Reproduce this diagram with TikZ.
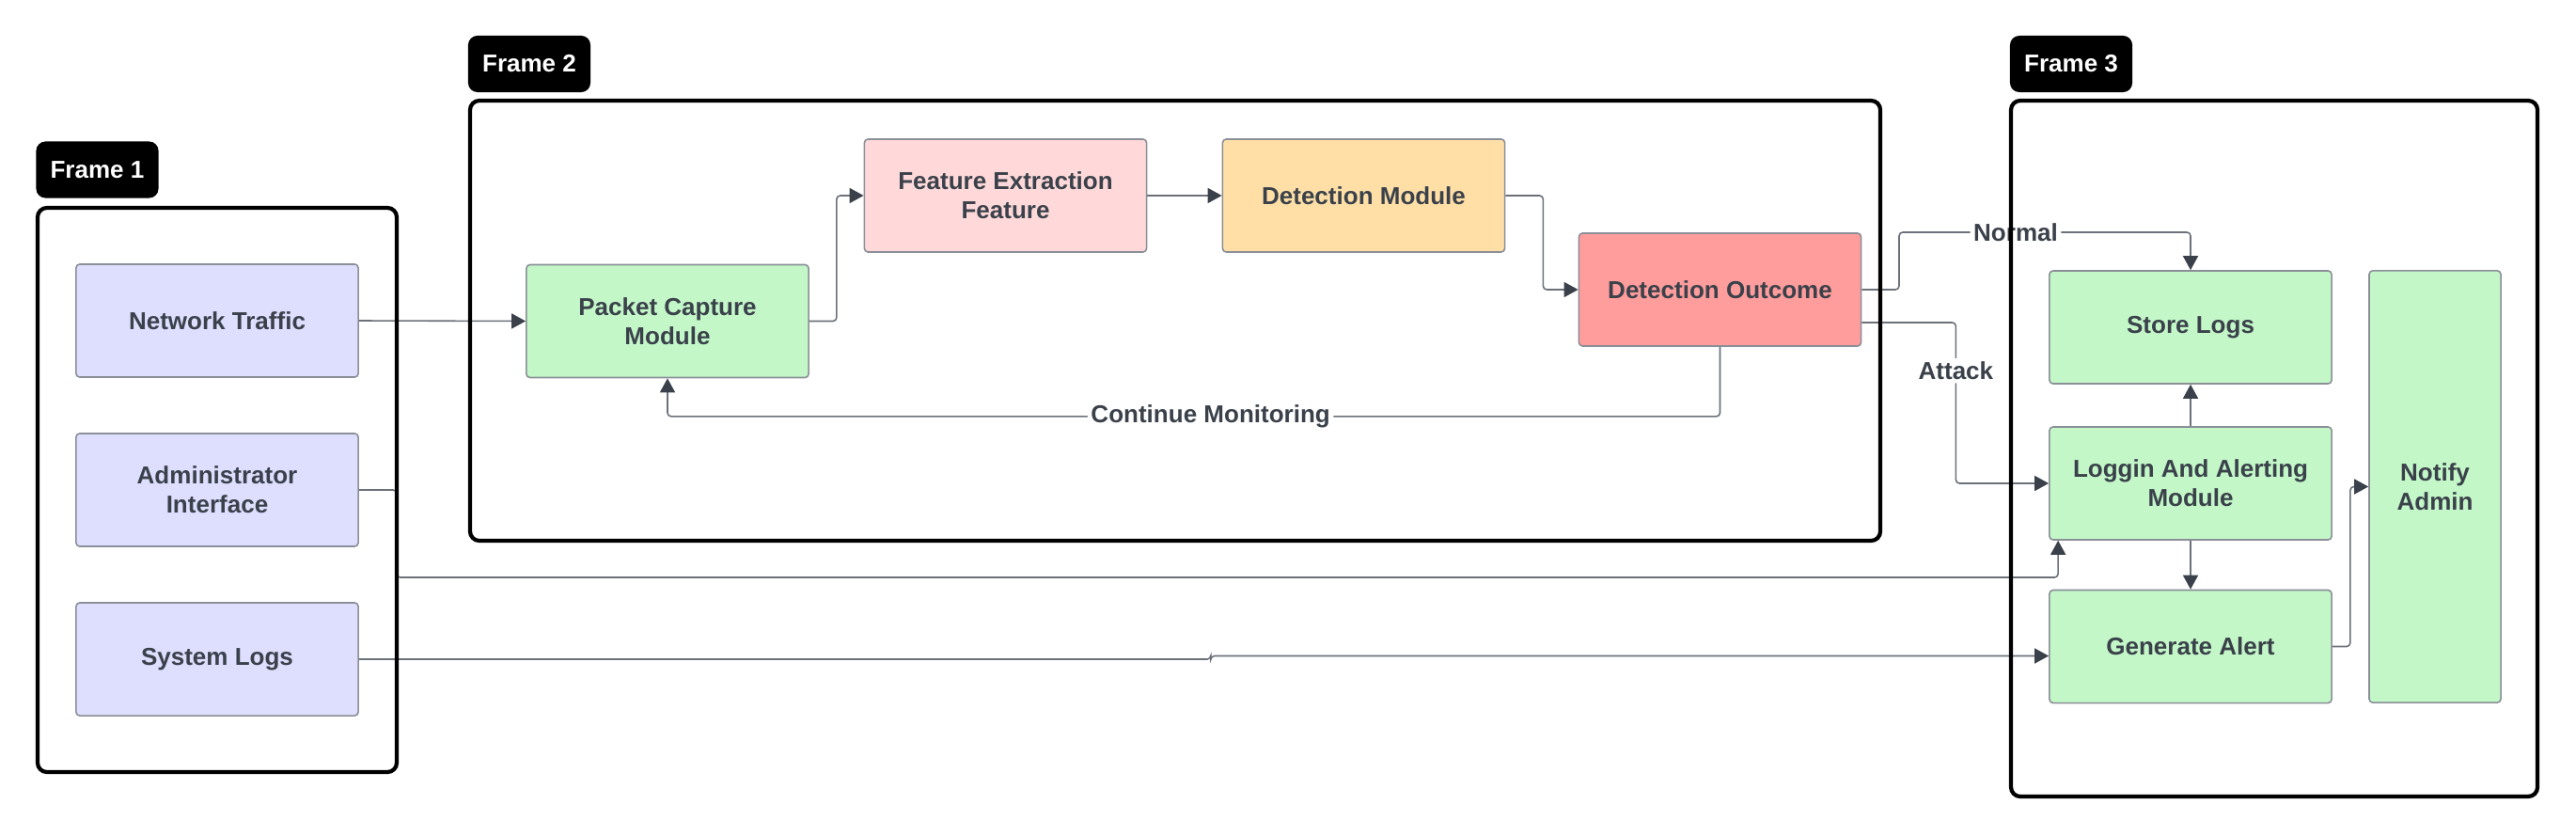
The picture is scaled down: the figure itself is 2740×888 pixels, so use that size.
\documentclass[tikz,border=0pt]{standalone}
\usepackage{fontspec}
\setmainfont{Liberation Sans}
\usepackage{xcolor}
\usetikzlibrary{calc,arrows.meta}
\definecolor{ink}{HTML}{3A414A}
\definecolor{edge}{HTML}{8A8F98}
\definecolor{wirec}{HTML}{6B7079}
\definecolor{lav}{HTML}{DEDEFF}
\definecolor{mint}{HTML}{C3F7C8}
\definecolor{rose}{HTML}{FFD9D9}
\definecolor{peach}{HTML}{FFDFA6}
\definecolor{salmon}{HTML}{FF9C9C}
\newcommand\diafont{\bfseries\fontsize{7.4pt}{8.8pt}\selectfont}
\tikzset{
  box/.style={draw=edge, line width=0.45pt, rounded corners=1.1pt, minimum width=3cm, minimum height=1.2cm, inner sep=0pt, align=center, text=ink, font=\diafont},
  framebox/.style={draw=black, line width=1.2pt, rounded corners=2.8pt},
  tag/.style={fill=black, text=white, rounded corners=2.8pt, minimum width=1.3cm, minimum height=0.6cm, inner sep=0pt, font=\diafont},
  conn/.style={draw=wirec, line width=0.45pt, rounded corners=1.1pt, -{Triangle[length=1.5mm,width=1.6mm,color=ink]}},
  lbl/.style={fill=white, text=ink, inner sep=1pt, font=\diafont},
}

\begin{document}
\begin{tikzpicture}[x=0.01cm, y=-0.01cm]
  \useasboundingbox (0,0) rectangle (2740,888);

  % frame 1
  \node[box, fill=lav] (traffic) at (231,341) {Network Traffic};
  \node[box, fill=lav] (admin)   at (231,521) {Administrator\\Interface};
  \node[box, fill=lav] (syslogs) at (231,701) {System Logs};

  % frame 2
  \node[box, fill=mint]   (capture) at (710,341.5)  {Packet Capture\\Module};
  \node[box, fill=rose]   (extract) at (1069.5,208) {Feature Extraction\\Feature};
  \node[box, fill=peach]  (detect)  at (1450.5,208) {Detection Module};
  \node[box, fill=salmon] (outcome) at (1829.5,308) {Detection Outcome};

  % frame 3
  \node[box, fill=mint] (store)    at (2330,348)   {Store Logs};
  \node[box, fill=mint] (logalert) at (2330,514)   {Loggin And Alerting\\Module};
  \node[box, fill=mint] (genalert) at (2330,687.5) {Generate Alert};
  \node[box, fill=mint, minimum width=1.4cm, minimum height=4.59cm] (notify) at (2590,517.5) {Notify\\Admin};

  \coordinate (nrm) at (2020,247);

  \draw[conn] (traffic.east) -- (capture.west);
  \draw[conn] (capture.east) -- ++(29,0) |- (extract.west);
  \draw[conn] (extract.east) -- (detect.west);
  \draw[conn] (detect.east) -- ++(40,0) |- (outcome.west);
  \draw[conn] (outcome.south) -- ++(0,74) -| node[lbl, pos=0.242] {Continue Monitoring} (capture.south);
  \draw[conn] (outcome.east) -| (nrm) -| node[lbl, pos=0.2] {Normal} (store.north);
  \draw[conn] ($(outcome.east)+(0,35)$) -- ++(100,0) |- node[lbl, pos=0.15] {Attack} (logalert.west);
  \draw[conn] (logalert.north) -- (store.south);
  \draw[conn] (logalert.south) -- (genalert.north);
  \draw[conn] (admin.east) -- ++(40,0) -- ++(0,93) -| ($(logalert.south west)+(10,0)$);
  \draw[conn] (syslogs.east) -- ++(906,0) |- ($(genalert.west)+(0,10)$);
  \draw[conn] (genalert.east) -- ++(19,0) |- (notify.west);

  % frames and tags
  \draw[framebox] (40,221) rectangle (422,821);
  \draw[framebox] (500,107) rectangle (2000,575);
  \draw[framebox] (2139,107) rectangle (2699,847);
  \node[tag] (tag1) at (103.5,180.5) {Frame 1};
  \node[tag] (tag2) at (563,68) {Frame 2};
  \node[tag] (tag3) at (2203,68) {Frame 3};
\end{tikzpicture}
\end{document}
